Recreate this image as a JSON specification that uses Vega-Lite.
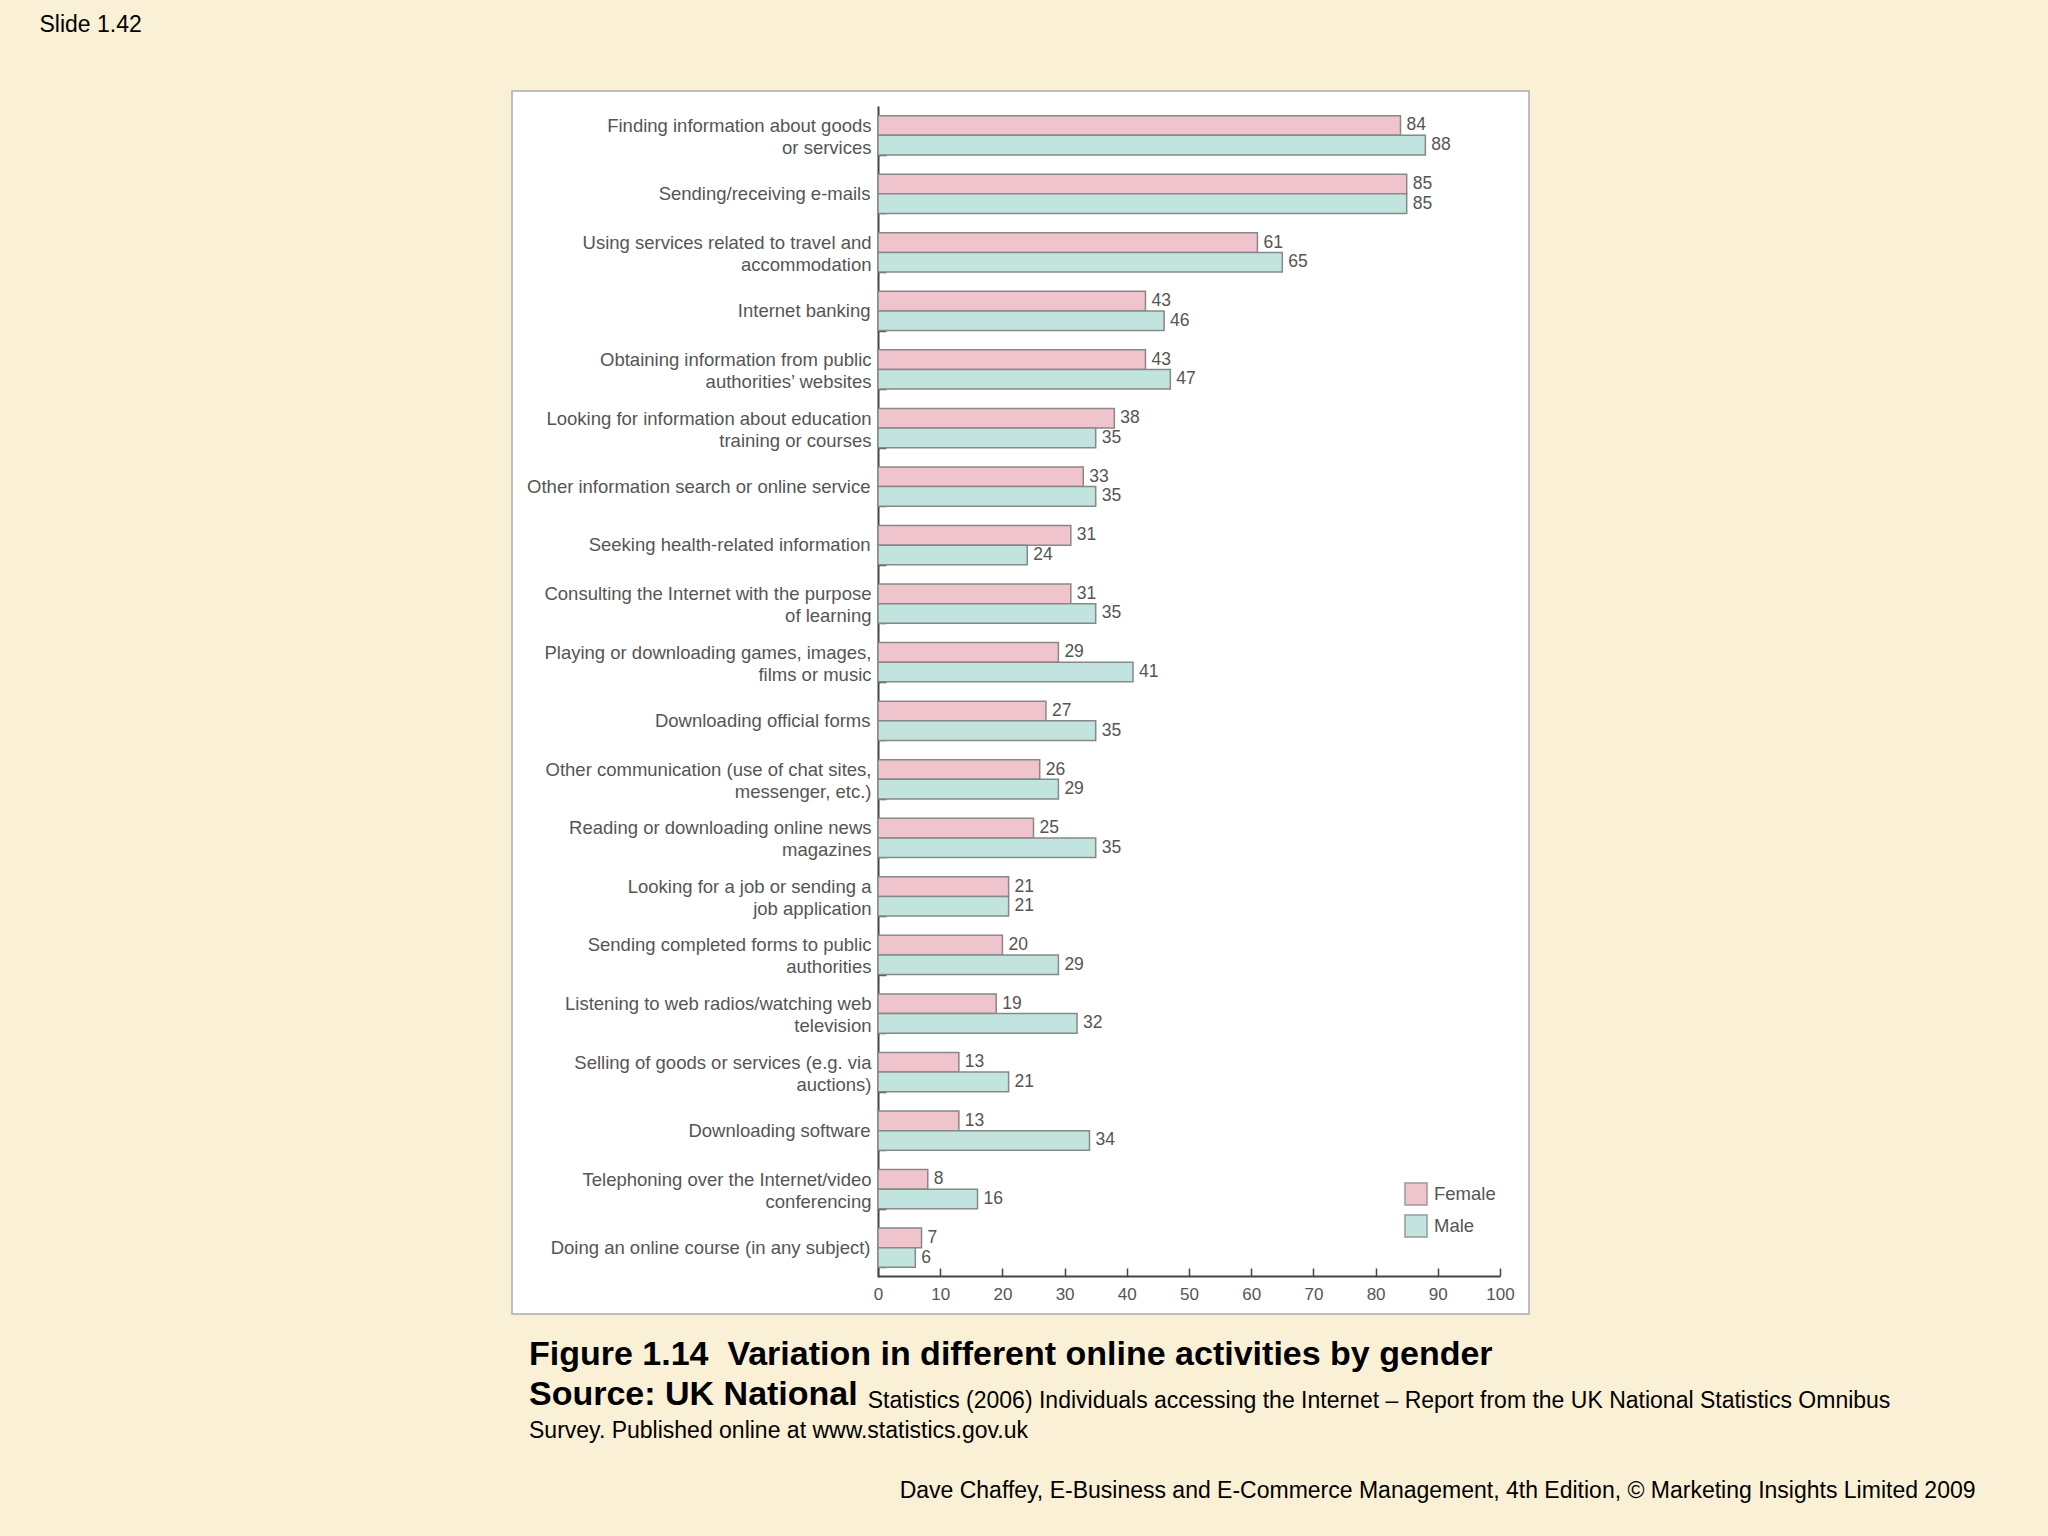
{
  "$schema": "https://vega.github.io/schema/vega-lite/v6.json",
  "width": 1017,
  "height": 1223,
  "autosize": {"type": "none"},
  "padding": {"left": 512, "top": 91, "right": 519, "bottom": 222},
  "background": "#FAF0D6",
  "title": {
    "text": ["Figure 1.14\u00a0 Variation in different online activities by gender", "Source: UK National"],
    "subtitle": [
      "\u200b\u00a0\u00a0\u00a0\u00a0\u00a0\u00a0\u00a0\u00a0\u00a0\u00a0\u00a0\u00a0\u00a0\u00a0\u00a0\u00a0\u00a0\u00a0\u00a0\u00a0\u00a0\u00a0\u00a0\u00a0\u00a0\u00a0\u00a0\u00a0\u00a0\u00a0\u00a0\u00a0\u00a0\u00a0\u00a0\u00a0\u00a0\u00a0\u00a0\u00a0\u00a0\u00a0\u00a0\u00a0\u00a0\u00a0\u00a0\u00a0\u00a0\u00a0\u00a0\u00a0\u00a0Statistics (2006) Individuals accessing the Internet \u2013 Report from the UK National Statistics Omnibus",
      "Survey. Published online at www.statistics.gov.uk",
      "\u200b",
      "\u200b\u00a0\u00a0\u00a0\u00a0\u00a0\u00a0\u00a0\u00a0\u00a0\u00a0\u00a0\u00a0\u00a0\u00a0\u00a0\u00a0\u00a0\u00a0\u00a0\u00a0\u00a0\u00a0\u00a0\u00a0\u00a0\u00a0\u00a0\u00a0\u00a0\u00a0\u00a0\u00a0\u00a0\u00a0\u00a0\u00a0\u00a0\u00a0\u00a0\u00a0\u00a0\u00a0\u00a0\u00a0\u00a0\u00a0\u00a0\u00a0\u00a0\u00a0\u00a0\u00a0\u00a0\u00a0\u00a0\u00a0\u00a0\u00a0Dave Chaffey, E-Business and E-Commerce Management, 4th Edition, \u00a9 Marketing Insights Limited 2009"
    ],
    "orient": "bottom",
    "anchor": "start",
    "frame": "group",
    "offset": 24,
    "dx": 17,
    "font": "Liberation Sans",
    "fontSize": 34,
    "fontWeight": "bold",
    "color": "#000000",
    "lineHeight": 40,
    "subtitleFont": "Liberation Sans",
    "subtitleFontSize": 23,
    "subtitleColor": "#000000",
    "subtitleLineHeight": 30,
    "subtitlePadding": -22
  },
  "data": {
    "values": [
      {"activity": "Finding information about goods|or services", "gender": "Female", "value": 84},
      {"activity": "Finding information about goods|or services", "gender": "Male", "value": 88},
      {"activity": "Sending/receiving e-mails", "gender": "Female", "value": 85},
      {"activity": "Sending/receiving e-mails", "gender": "Male", "value": 85},
      {"activity": "Using services related to travel and|accommodation", "gender": "Female", "value": 61},
      {"activity": "Using services related to travel and|accommodation", "gender": "Male", "value": 65},
      {"activity": "Internet banking", "gender": "Female", "value": 43},
      {"activity": "Internet banking", "gender": "Male", "value": 46},
      {"activity": "Obtaining information from public|authorities\u2019 websites", "gender": "Female", "value": 43},
      {"activity": "Obtaining information from public|authorities\u2019 websites", "gender": "Male", "value": 47},
      {"activity": "Looking for information about education|training or courses", "gender": "Female", "value": 38},
      {"activity": "Looking for information about education|training or courses", "gender": "Male", "value": 35},
      {"activity": "Other information search or online service", "gender": "Female", "value": 33},
      {"activity": "Other information search or online service", "gender": "Male", "value": 35},
      {"activity": "Seeking health-related information", "gender": "Female", "value": 31},
      {"activity": "Seeking health-related information", "gender": "Male", "value": 24},
      {"activity": "Consulting the Internet with the purpose|of learning", "gender": "Female", "value": 31},
      {"activity": "Consulting the Internet with the purpose|of learning", "gender": "Male", "value": 35},
      {"activity": "Playing or downloading games, images,|films or music", "gender": "Female", "value": 29},
      {"activity": "Playing or downloading games, images,|films or music", "gender": "Male", "value": 41},
      {"activity": "Downloading official forms", "gender": "Female", "value": 27},
      {"activity": "Downloading official forms", "gender": "Male", "value": 35},
      {"activity": "Other communication (use of chat sites,|messenger, etc.)", "gender": "Female", "value": 26},
      {"activity": "Other communication (use of chat sites,|messenger, etc.)", "gender": "Male", "value": 29},
      {"activity": "Reading or downloading online news|magazines", "gender": "Female", "value": 25},
      {"activity": "Reading or downloading online news|magazines", "gender": "Male", "value": 35},
      {"activity": "Looking for a job or sending a|job application", "gender": "Female", "value": 21},
      {"activity": "Looking for a job or sending a|job application", "gender": "Male", "value": 21},
      {"activity": "Sending completed forms to public|authorities", "gender": "Female", "value": 20},
      {"activity": "Sending completed forms to public|authorities", "gender": "Male", "value": 29},
      {"activity": "Listening to web radios/watching web|television", "gender": "Female", "value": 19},
      {"activity": "Listening to web radios/watching web|television", "gender": "Male", "value": 32},
      {"activity": "Selling of goods or services (e.g. via|auctions)", "gender": "Female", "value": 13},
      {"activity": "Selling of goods or services (e.g. via|auctions)", "gender": "Male", "value": 21},
      {"activity": "Downloading software", "gender": "Female", "value": 13},
      {"activity": "Downloading software", "gender": "Male", "value": 34},
      {"activity": "Telephoning over the Internet/video|conferencing", "gender": "Female", "value": 8},
      {"activity": "Telephoning over the Internet/video|conferencing", "gender": "Male", "value": 16},
      {"activity": "Doing an online course (in any subject)", "gender": "Female", "value": 7},
      {"activity": "Doing an online course (in any subject)", "gender": "Male", "value": 6}
    ]
  },
  "encoding": {
    "yOffset": {"field": "gender", "type": "nominal", "sort": ["Female", "Male"], "scale": {"paddingInner": 0}},
    "x": {
      "field": "value",
      "type": "quantitative",
      "scale": {"domain": [0, 100], "range": [366, 988], "nice": false},
      "axis": {
        "orient": "bottom",
        "offset": -38,
        "values": [0, 10, 20, 30, 40, 50, 60, 70, 80, 90, 100],
        "grid": false,
        "labelFlush": false,
        "labelFont": "Liberation Sans",
        "labelFontSize": 17,
        "labelColor": "#555555",
        "labelPadding": 18,
        "tickSize": -8,
        "tickColor": "#444444",
        "tickWidth": 1.5,
        "domainColor": "#444444",
        "domainWidth": 2,
        "title": null
      }
    }
  },
  "layer": [
    {
      "mark": {"type": "bar", "stroke": "#888888", "strokeWidth": 1.5},
      "encoding": {
        "y": {
          "field": "activity",
          "type": "nominal",
          "sort": null,
          "scale": {"range": [15, 1186], "paddingInner": 0.33, "paddingOuter": 0.165},
          "axis": {
            "orient": "left",
            "offset": -366,
            "labelExpr": "indexof(datum.label, '|') >= 0 ? split(datum.label, '|') : ''",
            "labelFont": "Liberation Sans",
            "labelFontSize": 18.5,
            "labelColor": "#555555",
            "labelLineHeight": 22,
            "labelLimit": 0,
            "labelPadding": 15,
            "labelOffset": 2,
            "labelBaseline": "line-bottom",
            "tickSize": -8,
            "tickBand": "extent",
            "tickColor": "#555555",
            "tickWidth": 1.5,
            "domainColor": "#444444",
            "domainWidth": 2,
            "title": "Slide 1.42",
            "titleAngle": 0,
            "titleX": -839,
            "titleY": -67,
            "titleAlign": "left",
            "titleBaseline": "middle",
            "titleFont": "Liberation Sans",
            "titleFontSize": 23,
            "titleFontWeight": "normal",
            "titleColor": "#000000"
          }
        },
        "fill": {
          "field": "gender",
          "type": "nominal",
          "scale": {"domain": ["Female", "Male"], "range": ["#EFC4CD", "#C1E4DE"]},
          "legend": {
            "orient": "none",
            "legendX": 892,
            "legendY": 1091,
            "title": null,
            "padding": 0,
            "symbolType": "square",
            "symbolSize": 484,
            "symbolStrokeColor": "#999999",
            "symbolStrokeWidth": 1.5,
            "rowPadding": 4,
            "labelFont": "Liberation Sans",
            "labelFontSize": 18.5,
            "labelColor": "#555555",
            "labelOffset": 6
          }
        }
      }
    },
    {
      "mark": {"type": "text", "align": "left", "baseline": "middle", "dx": 6, "font": "Liberation Sans", "fontSize": 17.5, "color": "#555555"},
      "encoding": {
        "y": {
          "field": "activity",
          "type": "nominal",
          "sort": null,
          "axis": {
            "orient": "left",
            "offset": -366,
            "labelExpr": "indexof(datum.label, '|') >= 0 ? '' : datum.label",
            "labelFont": "Liberation Sans",
            "labelFontSize": 18.5,
            "labelColor": "#555555",
            "labelLimit": 0,
            "labelPadding": 8,
            "labelBaseline": "middle",
            "ticks": false,
            "domain": false,
            "title": null
          }
        },
        "text": {"field": "value", "type": "quantitative"}
      }
    }
  ],
  "resolve": {"axis": {"y": "independent"}},
  "config": {
    "view": {"fill": "#FFFFFF", "stroke": "#AAAAAA", "strokeWidth": 1.5}
  }
}
